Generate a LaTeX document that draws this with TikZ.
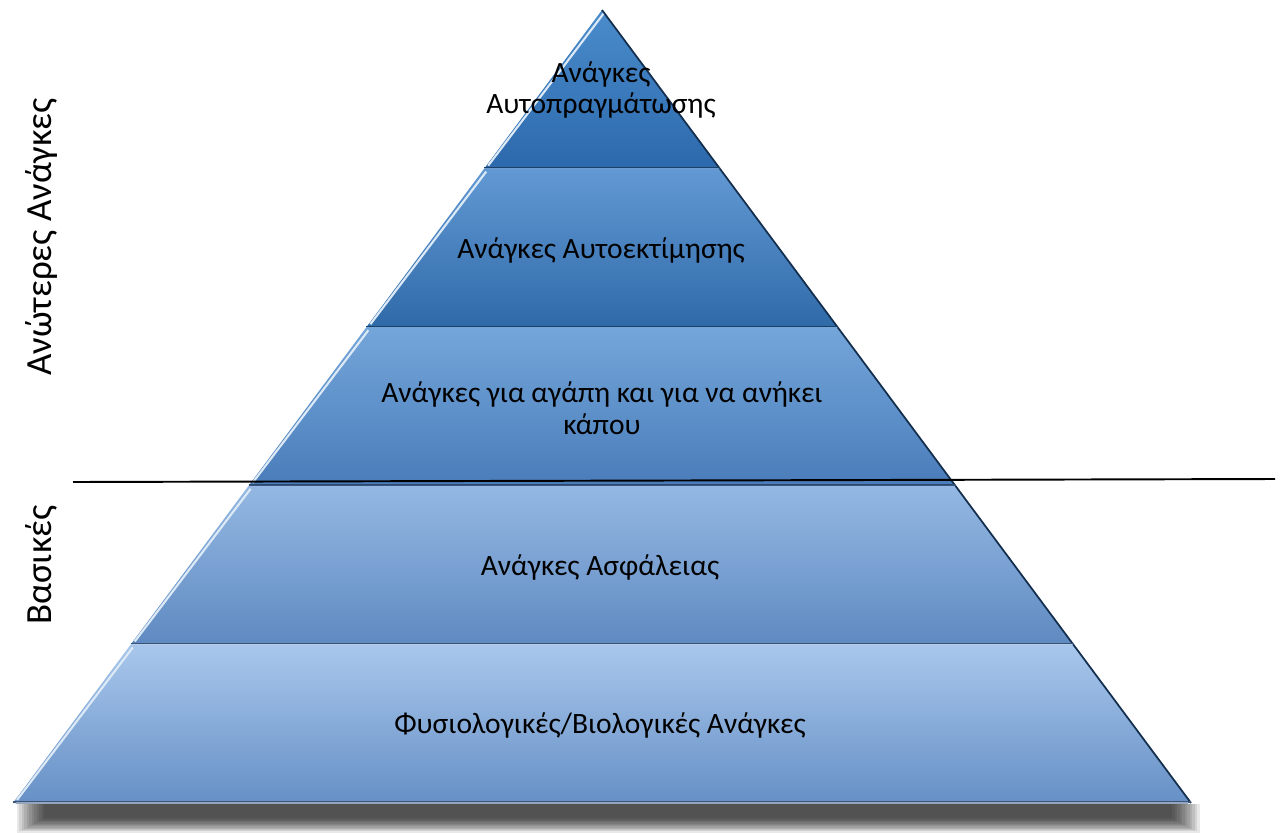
\documentclass[tikz,border=0pt]{standalone}
\usepackage{fontspec}
\setmainfont{Carlito}
\definecolor{tierAtop}{HTML}{4A8CCC}
\definecolor{tierAbot}{HTML}{2C69AC}
\definecolor{tierBtop}{HTML}{6299D4}
\definecolor{tierBbot}{HTML}{2F6AA8}
\definecolor{tierCtop}{HTML}{74A6DA}
\definecolor{tierCbot}{HTML}{4A7CBA}
\definecolor{tierDtop}{HTML}{94B8E3}
\definecolor{tierDbot}{HTML}{5F8AC1}
\definecolor{tierEtop}{HTML}{A9C7EC}
\definecolor{tierEbot}{HTML}{6690C6}
\tikzset{
  tiertext/.style={font=\fontsize{16.8}{18}\selectfont, align=center, text=black},
  sidetext/.style={font=\fontsize{21}{24}\selectfont, rotate=90}
}
\begin{document}
\begin{tikzpicture}[x=0.02cm,y=-0.02cm]
\useasboundingbox (0,0) rectangle (1281,832);
% soft shadow under the base
\foreach \k in {1,...,12}
  \fill[black, opacity=0.09] (14+2.5*\k,804) rectangle (1202-2.5*\k,834-1.3*\k);
% the five tiers
\foreach \i/\ct/\cb in {0/tierAtop/tierAbot,1/tierBtop/tierBbot,2/tierCtop/tierCbot,3/tierDtop/tierDbot,4/tierEtop/tierEbot}{
  \pgfmathsetmacro\yt{10+158.6*\i}
  \pgfmathsetmacro\yb{\yt+158.6}
  \pgfmathsetmacro\wt{0.74275*(\yt-10)}
  \pgfmathsetmacro\wb{0.74275*(\yb-10)}
  \shade[top color=\ct, bottom color=\cb] (602-\wt,\yt) -- (602+\wt,\yt) -- (602+\wb,\yb) -- (602-\wb,\yb) -- cycle;
  \draw[white!75!tierCtop, line width=1.2pt] (602-\wt+2,\yt+3) -- (602-\wb+4,\yb-3);
  \draw[black!55!tierAbot, line width=1pt] (602+\wt,\yt) -- (602+\wb,\yb);
  \draw[black!40!\cb, line width=0.8pt] (602-\wb,\yb-1) -- (602+\wb,\yb-1);
}
\draw[black!25!tierEbot!60!white, line width=0.8pt] (16,803) -- (1188,803);
\node[tiertext] (self) at (601,90) {Ανάγκες\\Αυτοπραγμάτωσης};
\node[tiertext] (esteem) at (601,250) {Ανάγκες Αυτοεκτίμησης};
\node[tiertext] (love) at (602,408) {Ανάγκες για αγάπη και για να ανήκει\\κάπου};
\node[tiertext] (safety) at (600,567) {Ανάγκες Ασφάλειας};
\node[tiertext] (body) at (600,725) {Φυσιολογικές/Βιολογικές Ανάγκες};
\node[sidetext] (higher) at (41,237) {Ανώτερες Ανάγκες};
\node[sidetext] (basic) at (41,565) {Βασικές};
\coordinate (splitL) at (73,482);
\coordinate (splitR) at (1275,479);
\draw[line width=1.1pt] (splitL) -- (splitR);
\end{tikzpicture}
\end{document}
